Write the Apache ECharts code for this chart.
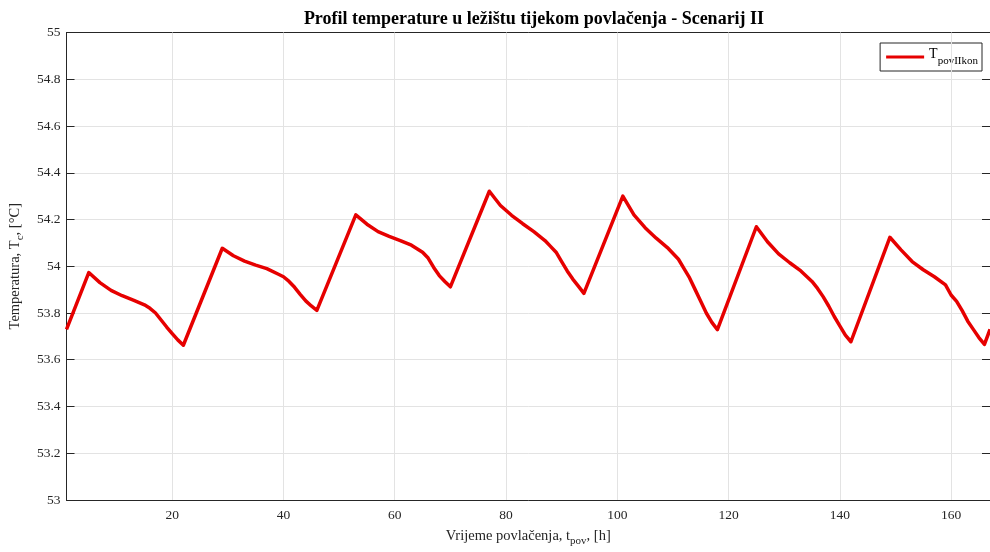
<!DOCTYPE html>
<html><head><meta charset="utf-8">
<script src="https://cdn.jsdelivr.net/npm/echarts@6/dist/echarts.min.js"></script>
<style>html,body{margin:0;padding:0;background:#fff}#c{width:990px;height:552px}</style>
</head><body><div id="c"></div>
<script>
// time, hours
const tHours = [1,5,7,9,11,13,15,16,17,18,19,20,21,22,
 29,31,33,35,37,39,40,41,42,43,44,45,46,
 53,55,57,59,61,63,64,65,66,67,68,69,70,
 77,79,81,83,85,87,88,89,90,91,92,93,94,
 101,103,105,107,109,111,112,113,114,115,116,117,118,
 125,127,129,131,133,135,136,137,138,139,140,141,142,
 149,151,153,155,157,159,160,161,162,163,164,165,166,167];
// temperature, °C
const tempValues = [53.73,53.973,53.93,53.897,53.874,53.855,53.835,53.82,53.80,53.77,53.74,53.712,53.685,53.662,
 54.077,54.045,54.022,54.005,53.99,53.967,53.955,53.935,53.91,53.88,53.852,53.83,53.811,
 54.22,54.18,54.148,54.128,54.11,54.09,54.075,54.06,54.035,53.995,53.96,53.935,53.912,
 54.321,54.26,54.218,54.182,54.148,54.11,54.085,54.06,54.02,53.98,53.945,53.915,53.884,
 54.30,54.22,54.165,54.12,54.08,54.03,53.99,53.95,53.90,53.85,53.80,53.76,53.729,
 54.169,54.105,54.053,54.015,53.98,53.935,53.905,53.87,53.83,53.785,53.745,53.705,53.677,
 54.124,54.07,54.02,53.985,53.955,53.92,53.877,53.85,53.81,53.765,53.73,53.695,53.666,53.73];
const xTicks = [20,40,60,80,100,120,140,160];
const seriesName = 'T_povIIkon';

const serif = 'Liberation Serif';
const axisCol = '#262626';
const gridCol = '#e3e3e3';
const chart = echarts.init(document.getElementById('c'), null, {renderer:'canvas'});
const data = tHours.map((t,i)=>[t,tempValues[i]]);
chart.setOption({
  animation:false,
  backgroundColor:'#fff',
  title:{text:'Profil temperature u ležištu tijekom povlačenja - Scenarij II', left:529, top:5, textAlign:'center',
    textStyle:{fontFamily:serif,fontWeight:'bold',fontSize:18,color:'#000'}},
  grid:{left:65,top:32.5,width:927,height:473.5,containLabel:false},
  legend:{right:8,top:43,orient:'vertical',backgroundColor:'#fff',borderColor:'#262626',borderWidth:1,borderRadius:0,
    padding:[4,4,4,6],itemWidth:38,itemHeight:14,itemGap:0,
    formatter:function(){return '{a|T}{b|povIIkon}';},
    textStyle:{fontFamily:serif,rich:{a:{fontFamily:serif,fontSize:14,color:'#000',verticalAlign:'bottom',padding:[0,0,6,0]},b:{fontFamily:serif,fontSize:11,color:'#000',verticalAlign:'bottom',padding:[0,0,0,0]}}},
    data:[{name:seriesName,icon:'path://M0,0 L38,0 L38,3 L0,3 Z'}]},
  xAxis:[{type:'value',min:1,max:167,position:'bottom',
    name:'{n|Vrijeme povlačenja, t}{s|pov}{n|, [h]}',nameLocation:'middle',nameGap:26,
    nameTextStyle:{rich:{n:{fontFamily:serif,fontSize:14.5,color:'#262626'},s:{fontFamily:serif,fontSize:11,color:'#262626',verticalAlign:'top',padding:[10,0,0,0]}}},
    axisLine:{show:true,lineStyle:{color:axisCol,width:1}},
    axisTick:{show:true,inside:true,length:8,lineStyle:{color:axisCol},customValues:xTicks},
    axisLabel:{fontFamily:serif,fontSize:13.5,color:'#262626',margin:8,customValues:xTicks},
    splitLine:{show:false}},
   {type:'value',min:1,max:167,position:'top',
    axisLine:{show:true,lineStyle:{color:axisCol,width:1}},
    axisTick:{show:true,inside:true,length:8,lineStyle:{color:axisCol},customValues:xTicks},
    axisLabel:{show:false},splitLine:{show:false}}],
  yAxis:[{type:'value',min:53,max:55,interval:0.2,position:'left',
    name:'{n|Temperatura, T}{s|c}{n|, [°C]}',nameLocation:'middle',nameGap:39,nameRotate:90,
    nameTextStyle:{rich:{n:{fontFamily:serif,fontSize:14.5,color:'#262626'},s:{fontFamily:serif,fontSize:11,color:'#262626',verticalAlign:'top',padding:[10,0,0,0]}}},
    axisLine:{show:true,lineStyle:{color:axisCol,width:1}},
    axisTick:{show:true,inside:true,length:8,lineStyle:{color:axisCol}},
    axisLabel:{fontFamily:serif,fontSize:13.5,color:'#262626',margin:6,formatter:v=>String(+v.toFixed(1))},
    splitLine:{show:true,lineStyle:{color:gridCol,width:1}}},
   {type:'value',min:53,max:55,interval:0.2,position:'right',
    axisLine:{show:true,lineStyle:{color:axisCol,width:1}},
    axisTick:{show:true,inside:true,length:8,lineStyle:{color:axisCol}},
    axisLabel:{show:false},splitLine:{show:false}}],
  series:[
   {name:'grid',type:'line',data:[],z:1,silent:true,
    markLine:{silent:true,symbol:'none',label:{show:false},animation:false,
      lineStyle:{color:gridCol,width:1,type:'solid'},
      data:xTicks.map(v=>({xAxis:v}))}},
   {name:seriesName,type:'line',data:data,showSymbol:false,symbol:'none',smooth:false,
    lineStyle:{color:'#e60000',width:3.5,join:'round'},itemStyle:{color:'#e60000'},z:5}]
});
</script></body></html>
